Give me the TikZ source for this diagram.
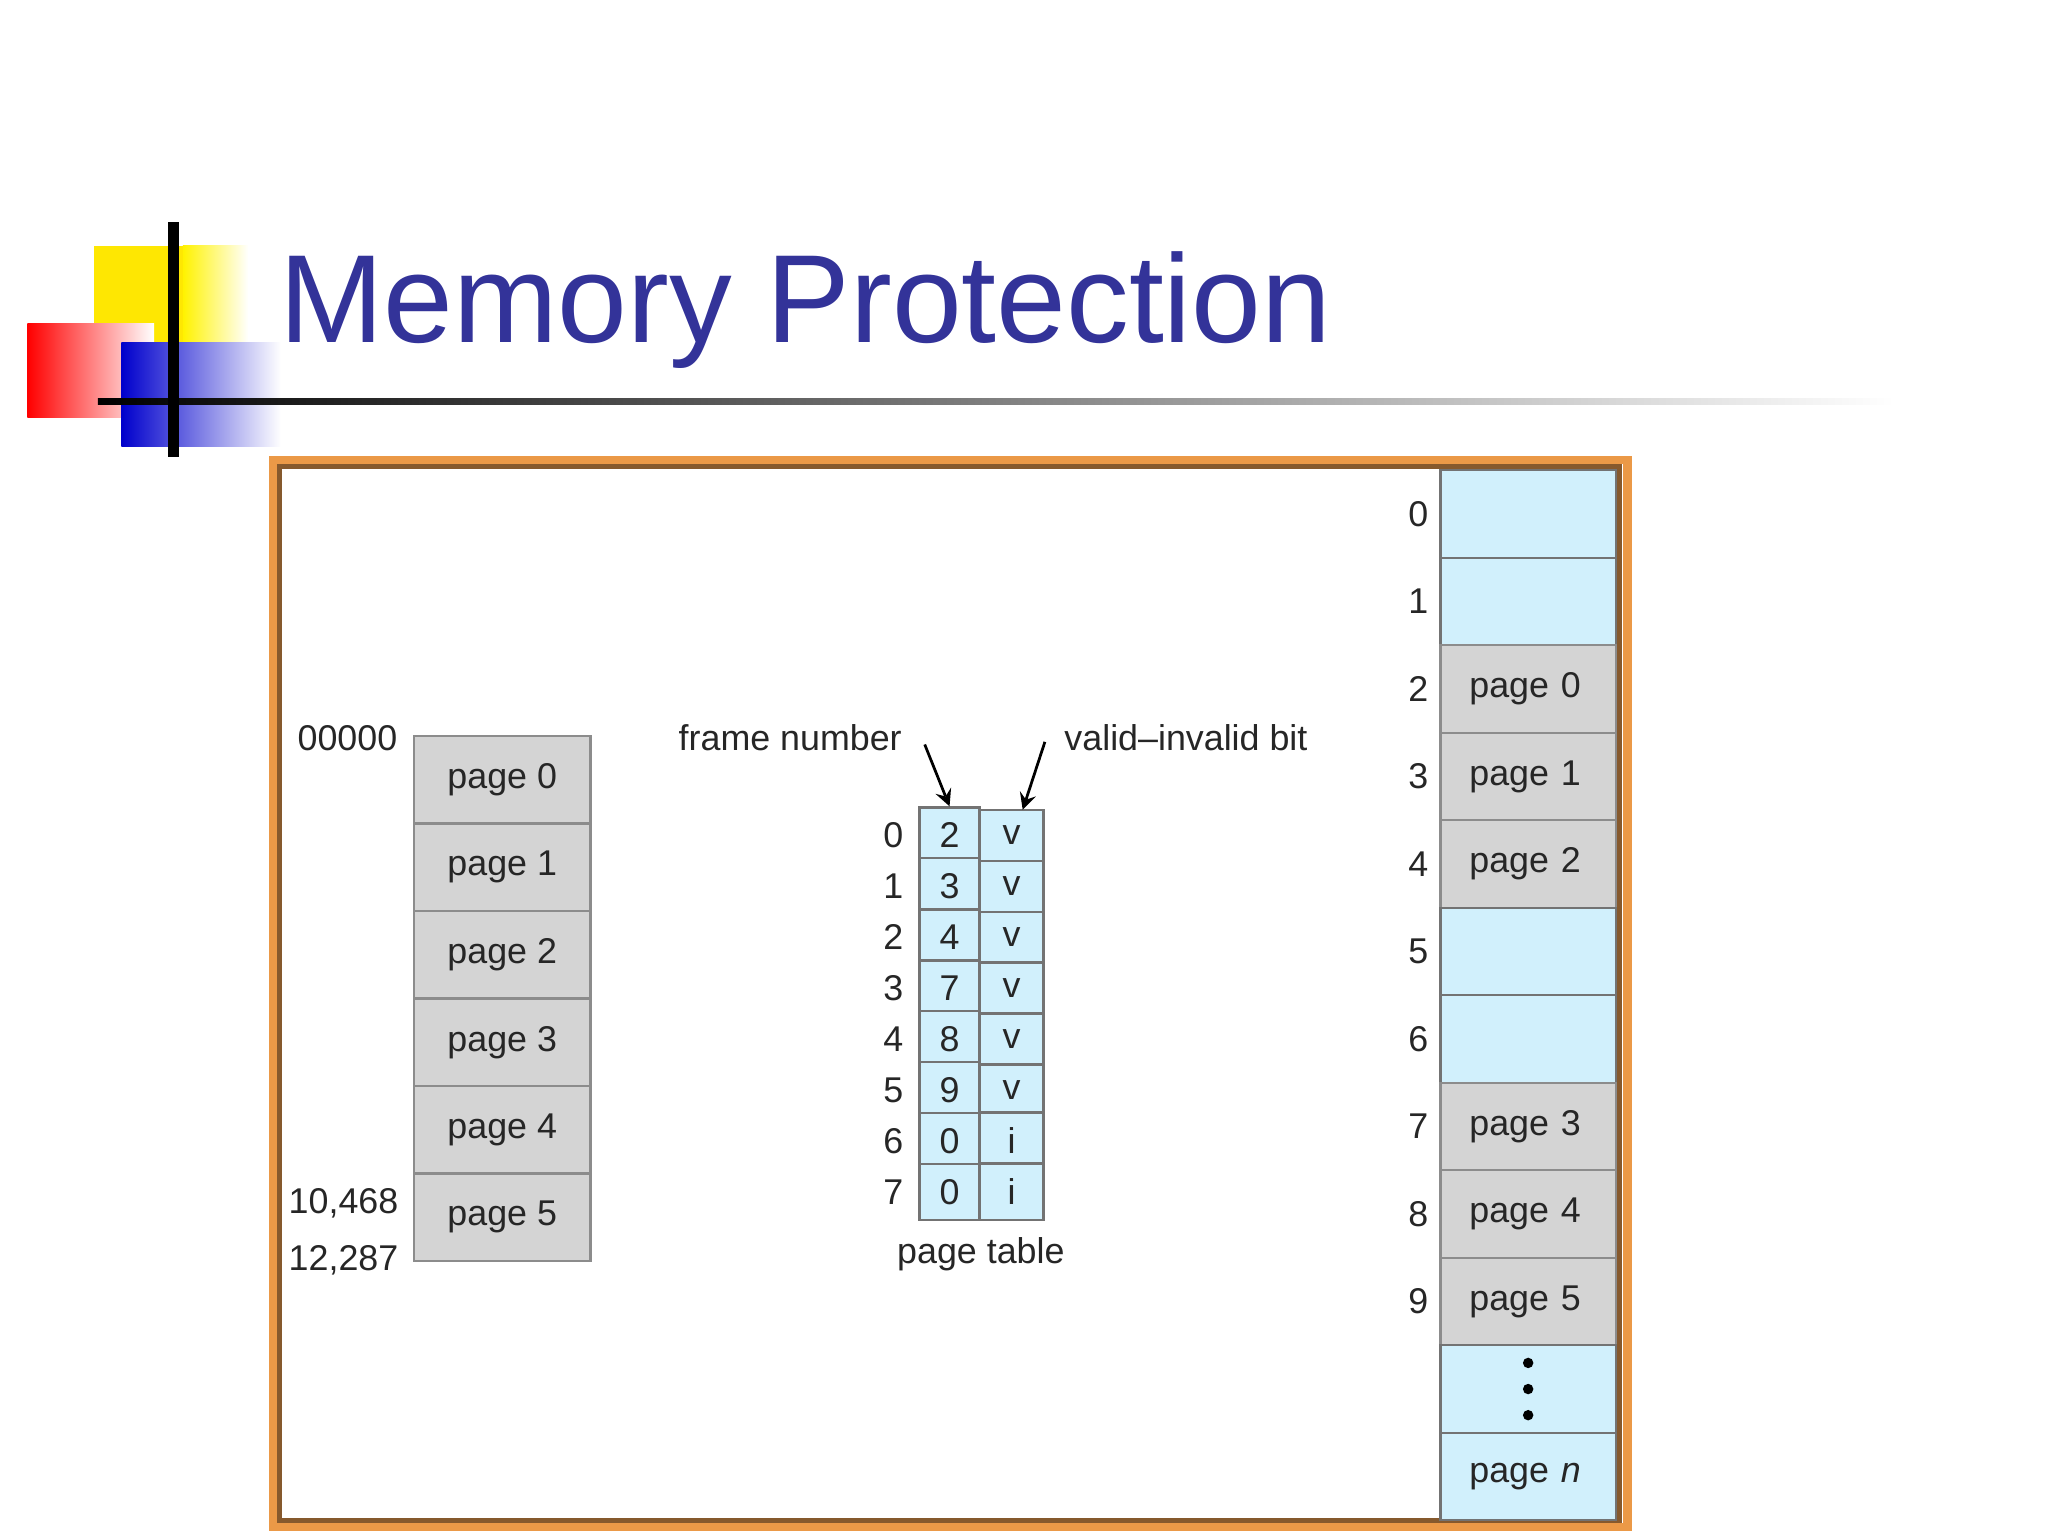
\documentclass[tikz,border=0pt]{standalone}
\usepackage{fontspec}
\setmainfont{Liberation Sans}
\begin{document}
\begin{tikzpicture}[x=0.01cm,y=-0.01cm,
  lbl/.style={font=\fontsize{7.8}{9}\selectfont,text=black!85},
  gbox/.style={draw=black!45,fill=black!17,line width=0.5pt},
  bbox/.style={draw=black!55,fill=cyan!18,line width=0.5pt},
  arr/.style={-stealth,line width=0.6pt}]
\useasboundingbox (0,0) rectangle (1568,1176);
% logo
\fill[yellow!90!orange] (72,188) rectangle (190,305);
\shade[left color=yellow!90!orange,right color=white] (140,188) rectangle (190,262);
\shade[left color=red,right color=white] (21,248) rectangle (118,320);
\shade[left color=blue!80!black,right color=white] (93,262) rectangle (215,342);
\shade[left color=black,right color=white] (75,305) rectangle (1450,310);
\draw[line width=2.5pt] (133,170) -- (133,350);
\node[anchor=base west,inner sep=0,text={rgb,255:red,51;green,51;blue,153},font=\fontsize{27.3}{30}\selectfont] (title) at (213,262) {Memory Protection};
% frame
\draw[orange!60!brown!80!white,line width=1.8pt] (209,352) rectangle (1246,1169);
\draw[brown!70!black,line width=1pt] (214,357) rectangle (1240,1164);
% left memory
\foreach \i in {0,...,5}{
  \node[gbox,minimum width=1.35cm,minimum height=0.67cm,lbl] (L\i) at (384.5,{597+\i*67}) {page \i};}
\node[lbl] (a0) at (266,565) {00000};
\node[lbl] (a1) at (263,921) {10,468};
\node[lbl] (a2) at (263,965) {12,287};
% page table
\foreach \i/\f/\v in {0/2/v,1/3/v,2/4/v,3/7/v,4/8/v,5/9/v,6/0/i,7/0/i}{
  \node[bbox,minimum width=0.46cm,minimum height=0.39cm,lbl] (F\i) at (727,{639.5+\i*39}) {\f};
  \node[bbox,minimum width=0.49cm,minimum height=0.39cm,lbl] (V\i) at (774.5,{639.5+\i*39}) {\v};
  \node[lbl] (I\i) at (684,{639.5+\i*39}) {\i};}
\node[lbl] (pt) at (751,960) {page table};
\node[lbl] (fn) at (605,565) {frame number};
\node[lbl] (vb) at (908,565) {valid--invalid bit};
\coordinate (fa) at (708,570);
\coordinate (va) at (800,568);
\coordinate (vt) at (783,620);
\draw[arr] (fa) -- (F0.north);
\draw[arr] (va) -- (vt);
% right memory
\foreach \i/\t/\s in {0//bbox,1//bbox,2/page 0/gbox,3/page 1/gbox,4/page 2/gbox,5//bbox,6//bbox,7/page 3/gbox,8/page 4/gbox,9/page 5/gbox}{
  \node[\s,minimum width=1.34cm,minimum height=0.67cm,lbl,text width=0.9cm] (R\i) at (1170,{393.5+\i*67}) {\t};
  \node[lbl] (N\i) at (1086,{393.5+\i*67}) {\i};}
\node[bbox,minimum width=1.34cm,minimum height=0.67cm] (R10) at (1170,1063.5) {};
\foreach \k in {-20,0,20} \fill (1170,{1063.5+\k}) circle (4);
\node[bbox,minimum width=1.34cm,minimum height=0.67cm,lbl,text width=0.9cm] (R11) at (1170,1130.5) {page \textit{n}};
\end{tikzpicture}
\end{document}
